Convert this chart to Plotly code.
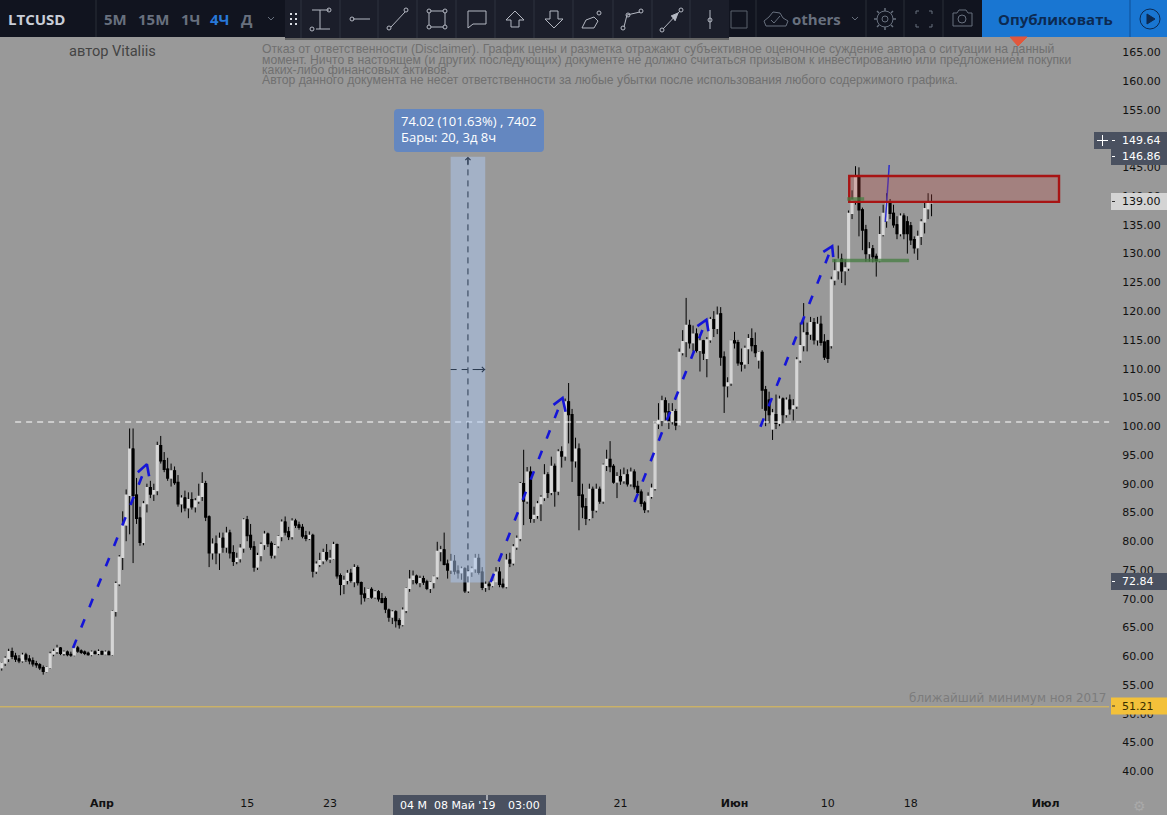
import plotly.graph_objects as go
import pandas as pd

# ---------- data ----------
first_bar = "2019-03-22 08:00"
opens = [
58.0,58.8,59.6,60.8,60.0,59.5,59.2,60.2,59.5,59.2,
58.7,58.5,58.0,57.4,58.0,60.4,60.8,61.4,60.5,60.7,
60.3,60.2,61.4,60.9,60.7,60.5,60.3,60.7,60.5,60.8,
60.4,60.7,60.3,67.8,72.6,77.2,82.8,88.0,96.0,88.0,
84.0,79.8,86.5,89.3,88.2,88.8,96.6,94.0,92.5,91.0,
92.2,90.2,86.5,87.5,85.8,87.2,86.0,87.0,87.8,90.0,
84.2,78.0,79.5,78.0,80.5,79.0,81.4,78.0,76.5,77.0,
78.8,83.7,81.0,79.0,75.5,77.5,79.4,81.2,79.6,77.6,
79.2,80.8,83.3,81.6,80.8,83.5,82.8,82.4,80.9,80.5,
81.0,74.8,76.0,76.6,78.0,76.9,77.0,79.4,74.0,72.5,
73.2,74.4,73.0,75.4,72.8,70.8,70.2,71.6,70.3,71.2,
70.0,70.0,68.0,66.8,67.7,66.2,65.5,68.0,71.8,73.4,
73.9,72.8,73.5,72.9,71.8,72.8,73.8,78.2,78.5,76.0,
75.0,76.5,74.8,74.5,75.2,71.4,74.7,75.2,77.0,74.6,
72.0,72.5,72.3,73.0,74.6,72.5,72.1,76.7,76.2,79.0,
80.5,90.0,87.0,92.0,84.0,84.5,86.5,87.6,91.5,88.5,
93.0,88.7,95.5,94.8,104.2,102.0,94.0,96.0,88.0,86.0,
84.0,89.0,85.4,89.0,87.0,93.2,94.2,93.0,90.3,91.2,
90.5,91.5,90.0,92.0,89.5,88.5,86.6,85.5,87.8,89.2,
100.4,101.0,104.4,102.5,100.8,102.5,100.2,112.8,114.7,117.5,
114.5,116.0,113.2,114.8,111.8,115.0,118.5,117.0,119.5,112.0,
107.0,107.5,114.8,114.5,111.0,110.8,113.5,115.2,114.0,111.5,
112.8,106.3,104.5,99.5,102.0,100.5,104.7,102.0,104.5,103.0,
103.5,111.5,114.0,116.2,116.0,118.0,115.0,117.7,114.6,114.8,
114.0,125.4,127.0,129.0,127.0,127.5,137.0,139.3,143.5,137.6,
134.1,130.0,130.8,129.5,128.8,133.3,135.7,139.0,137.0,135.0,
133.5,136.5,135.5,134.8,132.4,131.0,133.0,135.5,137.8,138.8,
]
highs = [
59.0,60.0,61.3,61.5,60.6,60.2,60.6,60.6,60.2,59.8,
59.2,58.8,58.4,58.2,60.8,61.3,62.0,61.6,61.0,61.0,
60.8,61.9,61.8,61.2,61.0,60.8,61.0,61.0,61.2,61.0,
61.0,61.0,68.0,73.0,77.6,85.2,89.0,99.6,99.6,91.0,
86.0,87.0,90.0,90.5,90.0,97.3,98.3,95.5,94.5,93.5,
93.0,91.5,88.0,88.8,88.5,88.5,87.5,90.0,92.0,90.5,
84.5,80.5,81.0,81.5,81.5,82.5,82.0,79.3,78.0,79.5,
84.0,84.4,83.0,80.0,78.0,79.8,81.8,81.5,80.0,79.5,
81.0,83.8,84.3,82.5,84.0,83.9,83.4,83.0,81.8,81.7,
81.3,76.5,78.0,78.7,79.5,78.5,79.9,79.6,74.4,74.0,
75.0,75.2,76.0,75.8,73.0,72.0,71.8,72.0,71.5,71.5,
71.0,70.4,68.3,68.0,68.0,66.6,68.5,72.0,75.0,74.9,
74.2,74.0,74.0,73.3,73.0,74.0,79.9,79.2,81.5,76.8,
77.8,77.6,75.8,75.6,75.5,75.0,75.6,77.8,77.8,75.5,
73.0,73.0,73.2,75.5,75.5,73.5,77.8,78.0,79.5,81.0,
90.3,95.9,92.9,93.0,86.0,87.0,88.0,93.4,92.0,94.7,
93.5,96.0,96.5,104.8,107.5,103.0,98.0,97.0,90.0,87.5,
90.0,89.5,90.0,89.5,93.5,95.9,97.4,93.4,92.0,92.5,
92.8,92.5,92.8,92.5,90.5,89.0,87.0,88.5,90.0,100.8,
104.0,105.3,105.0,104.0,104.0,103.0,113.5,116.7,122.3,118.5,
117.5,117.0,116.0,115.0,115.5,119.0,120.0,120.8,120.7,113.0,
108.5,115.0,116.4,115.0,113.5,114.0,116.0,117.0,116.3,113.0,
113.2,107.0,106.0,103.0,105.5,105.3,105.0,105.0,105.5,104.7,
112.0,118.0,121.4,118.0,119.0,118.8,119.0,119.2,116.0,115.0,
126.0,129.0,131.4,130.0,129.0,137.5,141.0,145.2,145.0,138.0,
135.0,132.0,131.5,130.0,136.5,138.5,140.5,139.5,138.5,136.5,
137.0,137.0,136.5,135.5,133.0,134.0,136.0,138.8,140.5,140.3,
]
lows = [
57.5,58.3,59.0,59.5,59.0,58.8,58.9,59.0,58.6,58.2,
58.0,57.6,56.8,57.2,57.8,60.0,60.4,60.2,60.1,60.0,
59.9,60.0,60.6,60.4,60.2,60.1,60.0,60.3,60.2,60.2,
60.2,60.2,60.1,66.9,72.2,75.0,80.0,81.2,76.2,83.0,
79.2,79.3,85.0,87.5,87.0,88.0,93.5,92.0,90.5,89.5,
89.8,86.0,85.0,85.2,84.0,85.5,85.0,86.5,87.0,83.5,
75.5,76.8,76.0,75.0,78.0,78.0,77.0,75.7,76.0,76.3,
78.0,80.0,78.5,74.7,75.0,76.5,78.5,79.0,77.0,77.0,
78.8,80.0,81.0,80.2,80.3,82.3,82.0,80.5,80.0,80.2,
73.7,74.3,75.5,76.0,76.5,76.2,76.8,73.5,70.6,70.8,
72.5,72.8,72.0,72.3,69.0,69.5,70.0,70.0,70.0,69.5,
69.2,67.5,66.0,65.6,65.0,64.8,65.2,67.5,71.2,72.5,
72.5,72.0,72.4,71.5,71.0,71.8,73.4,76.5,75.8,73.5,
74.3,74.2,73.5,73.3,71.0,71.0,73.8,74.5,74.2,71.5,
71.2,71.5,72.0,73.0,72.0,71.8,71.8,75.5,75.8,78.5,
80.0,82.8,86.5,83.2,83.2,83.9,83.5,87.0,87.5,88.0,
86.0,88.0,92.8,94.0,97.0,90.3,92.8,81.9,84.0,82.8,
83.6,84.0,85.0,86.5,86.5,92.2,92.0,90.0,87.5,89.8,
90.0,89.5,89.5,89.0,88.0,86.0,84.9,85.0,87.4,88.8,
99.5,100.0,101.0,99.5,100.3,99.3,100.0,112.3,112.0,113.5,
113.0,112.8,109.5,111.5,108.5,114.5,115.5,116.0,110.5,102.3,
105.0,107.0,113.5,110.5,109.5,110.0,110.8,113.0,112.0,110.0,
103.0,100.0,100.5,97.6,99.5,100.0,100.5,101.5,102.0,101.0,
103.0,111.0,113.0,113.0,115.0,114.2,114.0,114.0,111.5,111.0,
113.5,124.5,125.5,124.9,124.5,127.0,136.0,138.5,133.0,130.6,
128.6,128.6,128.5,126.0,128.5,133.0,134.5,136.0,134.5,132.5,
133.0,132.5,130.0,131.5,130.0,128.9,131.5,133.5,136.0,136.5,
]
closes = [
58.8,59.6,60.8,60.0,59.5,59.2,60.2,59.5,59.2,58.7,
58.5,58.0,57.4,58.0,60.4,60.8,61.4,60.5,60.7,60.3,
60.2,61.4,60.9,60.7,60.5,60.3,60.7,60.5,60.8,60.4,
60.7,60.3,67.8,72.6,77.2,82.8,88.0,96.0,88.0,84.0,
79.8,86.5,89.3,88.2,88.8,96.6,94.0,92.5,91.0,92.2,
90.2,86.5,87.5,85.8,87.2,86.0,87.0,87.8,90.0,84.2,
78.0,79.5,78.0,80.5,79.0,81.4,78.0,76.5,77.0,78.8,
83.7,81.0,79.0,75.5,77.5,79.4,81.2,79.6,77.6,79.2,
80.8,83.3,81.6,80.8,83.5,82.8,82.4,80.9,80.5,81.0,
74.8,76.0,76.6,78.0,76.9,77.0,79.4,74.0,72.5,73.2,
74.4,73.2,75.4,72.8,70.8,70.2,71.6,70.3,71.2,70.0,
69.4,68.2,66.8,67.7,66.2,65.5,68.0,71.8,73.4,73.9,
72.8,73.5,72.9,71.8,72.8,73.8,78.2,78.5,76.0,75.0,
76.5,74.8,74.5,75.2,71.4,74.7,75.2,77.0,74.6,72.0,
72.5,72.3,73.0,74.6,72.5,72.1,76.7,76.2,79.0,80.5,
90.0,87.0,92.0,84.0,84.5,86.5,87.6,91.5,88.5,93.0,
88.7,95.5,94.8,104.2,102.0,94.0,96.0,88.0,86.0,84.0,
89.0,85.4,89.0,87.0,93.2,94.2,93.0,90.3,91.2,90.5,
91.5,90.0,92.0,89.5,88.5,86.6,85.5,87.8,89.2,100.4,
101.0,104.4,102.5,100.8,102.5,100.2,112.8,114.7,117.5,114.5,
116.0,113.2,114.8,112.7,115.0,118.5,117.0,119.3,112.0,107.0,
107.5,114.8,114.5,111.0,110.8,113.5,115.2,114.0,112.8,112.8,
106.3,102.8,102.0,102.3,100.5,104.7,102.0,104.5,103.0,103.5,
111.5,114.0,116.2,116.0,118.0,115.0,117.7,114.6,112.0,111.8,
125.4,127.0,129.0,127.0,127.5,137.0,139.3,143.5,137.6,134.1,
130.0,130.8,129.5,128.8,133.3,137.0,139.0,137.0,135.0,133.5,
136.5,133.5,133.5,132.4,131.0,133.0,135.5,137.8,138.8,139.0,
]

# dashed blue forecasts: start, tip, head-left, head-right
arrow_dates = [
    ["2019-03-29 05:00", "2019-04-05 08:00", "2019-04-04 11:00", "2019-04-05 13:00"],
    ["2019-05-08 11:30", "2019-05-15 10:00", "2019-05-14 13:00", "2019-05-15 17:00"],
    ["2019-05-22 08:30", "2019-05-29 07:00", "2019-05-28 10:00", "2019-05-29 11:30"],
    ["2019-06-03 12:00", "2019-06-10 10:00", "2019-06-09 13:30", "2019-06-10 12:30"],
]
arrow_prices = [
    [61.44, 93.4, 92.0, 91.3],
    [72.9, 104.9, 103.7, 102.5],
    [86.8, 118.5, 117.4, 116.5],
    [99.9, 131.3, 130.3, 129.4],
]
blue_line_dates = ["2019-06-15 13:00", "2019-06-15 22:00"]
blue_line_prices = [135.5, 145.4]
green_a_dates = ["2019-06-10 10:00", "2019-06-17 20:00"]
green_a_price = 128.8
green_b_dates = ["2019-06-11 21:00", "2019-06-13 12:00"]
green_b_price = 139.5
zone_dates = ["2019-06-12 01:30", "2019-07-02 07:00"]
zone_prices = [139.0, 143.5]
level_dashed = 100.73
level_dashed_dates = ["2019-03-23 15:00", "2019-07-07 03:00"]
level_low = 51.21
level_low_end = "2019-07-07 03:00"
measure_dates = ["2019-05-04 15:00", "2019-05-07 23:00"]
measure_mid_date = "2019-05-06 07:00"
measure_prices = [72.84, 146.86]

y_ticks = list(range(40, 170, 5))
x_ticks = ["2019-04-01", "2019-04-15", "2019-04-23", "2019-05-21", "2019-06-01", "2019-06-10", "2019-06-18", "2019-07-01"]
x_tick_labels = ["<b>Апр</b>", "15", "23", "21", "<b>Июн</b>", "10", "18", "<b>Июл</b>"]
x_range = ["2019-03-22 04:00", "2019-07-07 05:00"]
y_range = [35.88, 174.09]

# ---------- geometry of the page chrome (pixels) ----------
W, H = 1167, 815
PW, PH = 1110, 795
def X(p): return p / PW
def Y(p): return 1 - p / PH

shapes, notes = [], []
def rect(x0, y0, x1, y1, fill=None, line=None, w=1):
    shapes.append(dict(type="rect", xref="paper", yref="paper", x0=X(x0), x1=X(x1), y0=Y(y0), y1=Y(y1),
                       fillcolor=fill or "rgba(0,0,0,0)", line=dict(color=line or "rgba(0,0,0,0)", width=w if line else 0), layer="above"))
def seg(x0, y0, x1, y1, color="#b4b8c2", w=1):
    shapes.append(dict(type="line", xref="paper", yref="paper", x0=X(x0), x1=X(x1), y0=Y(y0), y1=Y(y1),
                       line=dict(color=color, width=w), layer="above"))
def circ(cx, cy, r, line="#b4b8c2", fill=None, w=1):
    shapes.append(dict(type="circle", xref="paper", yref="paper", x0=X(cx - r), x1=X(cx + r), y0=Y(cy - r), y1=Y(cy + r),
                       fillcolor=fill or "rgba(0,0,0,0)", line=dict(color=line, width=w), layer="above"))
def poly(points, color="#b4b8c2", fill=None, w=1, close=False):
    d = "M " + " L ".join(f"{X(a):.5f},{Y(b):.5f}" for a, b in points) + (" Z" if close else "")
    shapes.append(dict(type="path", xref="paper", yref="paper", path=d,
                       fillcolor=fill or "rgba(0,0,0,0)", line=dict(color=color, width=w), layer="above"))
def text(x, y, s, size=11, color="#111111", anchor="left", font="DejaVu Sans"):
    notes.append(dict(xref="paper", yref="paper", x=X(x), y=Y(y), text=s, showarrow=False, xanchor=anchor, yanchor="middle",
                      font=dict(family=font, size=size, color=color), borderpad=0, borderwidth=0))

# top bar
BAR = "#11141f"
rect(0, 0, W, 37, BAR)
text(8, 19, "<b>LTCUSD</b>", 15, "#c9ced8", font="Open Sans")
seg(96, 0, 96, 37, "#2a2e39")
for tx, s, col in [(104, "5M", "#68707e"), (138, "15M", "#68707e"), (181, "1Ч", "#68707e"), (210, "4Ч", "#2878d8"), (241, "Д", "#68707e")]:
    text(tx, 19, f"<b>{s}</b>", 15, col, font="Open Sans")
poly([(268, 17), (271, 20), (274, 17)], "#68707e")

# floating drawing toolbar
rect(285, 38, 729, 40, "rgba(0,0,0,0.35)")
rect(285, 0, 729, 38, "#1b1e2a")
for gx in (291, 296):
    for gy in (14, 19, 24):
        rect(gx - 1, gy - 1, gx + 1, gy + 1, "#d8dbe2")
for sx in (301, 340, 378, 417, 456, 495, 534, 573, 613, 652, 690):
    seg(sx, 0, sx, 38, "#2e323e")
# icons
seg(312, 10, 329, 10); seg(320, 10, 320, 29); seg(316, 29, 330, 29); circ(329, 10, 2); circ(312, 29, 2)
seg(353, 19, 370, 19); circ(352, 19, 2)
seg(391, 27, 405, 12); circ(389, 28, 2); circ(406, 10, 2)
rect(429, 11, 445, 27, None, "#b4b8c2"); [circ(a, b, 2, fill="#1b1e2a") for a in (429, 445) for b in (11, 27)]
poly([(468, 11), (486, 11), (486, 24), (473, 24), (468, 28), (468, 11)])
poly([(515, 11), (524, 20), (519, 20), (519, 27), (511, 27), (511, 20), (506, 20), (515, 11)])
poly([(554, 28), (563, 19), (558, 19), (558, 11), (550, 11), (550, 19), (545, 19), (554, 28)])
poly([(582, 28), (586, 20), (594, 17), (598, 21), (594, 28), (582, 28)]); circ(599, 13, 2)
poly([(624, 27), (627, 15), (640, 12)]); circ(623, 28, 2); circ(628, 15, 2); circ(641, 11, 2)
seg(663, 29, 680, 11); poly([(671, 16), (678, 13), (675, 21)], fill="#b4b8c2"); circ(662, 30, 2); circ(681, 10, 2)
seg(710, 10, 710, 29); circ(710, 20, 2)

# right part of the bar
rect(731, 11, 747, 28, None, "#5a606c")
seg(756, 0, 756, 37, "#2a2e39")
poly([(766, 26), (764, 21), (769, 17), (773, 12), (780, 13), (783, 18), (788, 21), (786, 26), (766, 26)], "#68707e")
poly([(771, 20), (774, 23), (780, 16)], "#68707e")
text(792, 19, "<b>others</b>", 15, "#68707e", font="Open Sans")
poly([(852, 17), (855, 20), (858, 17)], "#68707e")
seg(866, 0, 866, 37, "#2a2e39"); seg(904, 0, 904, 37, "#2a2e39"); seg(943, 0, 943, 37, "#2a2e39")
circ(885, 19, 8, "#68707e"); circ(885, 19, 3, "#68707e")
for a, b, c, d in [(885, 8, 885, 11), (885, 27, 885, 30), (874, 19, 877, 19), (893, 19, 896, 19),
                   (877, 11, 879, 13), (893, 11, 891, 13), (877, 27, 879, 25), (893, 27, 891, 25)]:
    seg(a, b, c, d, "#68707e", 1.5)
for pts in [[(916, 14), (916, 11), (919, 11)], [(929, 11), (932, 11), (932, 14)], [(916, 24), (916, 27), (919, 27)], [(929, 27), (932, 27), (932, 24)]]:
    poly(pts, "#68707e")
poly([(953, 13), (957, 13), (959, 10), (966, 10), (968, 13), (972, 13), (972, 26), (953, 26), (953, 13)], "#68707e")
circ(962, 19, 4, "#68707e")
rect(982, 0, 1167, 37, "#1976d2")
seg(1130, 0, 1130, 37, "#0e4f96")
text(1055, 19, "<b>Опубликовать</b>", 15, "#0c2a52", "center", font="Open Sans")
circ(1150, 19, 10, "#0c2a52")
poly([(1147, 14), (1155, 19), (1147, 24)], "#0c2a52", "#0c2a52", close=True)
poly([(1010, 37), (1027, 37), (1018, 46)], "#e2573c", "#e2573c", close=True)

# page texts
text(69, 51, "автор Vitaliis", 14.6, "#444444", font="Roboto")
DISC = "#707070"
DF = "Liberation Sans"
text(262, 49, "Отказ от ответственности (Disclaimer). График цены и разметка отражают субъективное оценочное суждение автора о ситуации на данный", 12.2, DISC, font=DF)
text(262, 60, "момент. Ничто в настоящем (и других последующих) документе не должно считаться призывом к инвестированию или предложением покупки", 12.2, DISC, font=DF)
text(262, 70, "каких-либо финансовых активов.", 12.2, DISC, font=DF)
text(262, 80, "Автор данного документа не несет ответственности за любые убытки после использования любого содержимого графика.", 12.2, DISC, font=DF)
text(1107, 698, "ближайший минимум ноя 2017", 12, "#7c7c7c", "right")

# measure label
bx0, by0, bx1, by1, r = 394, 109, 544, 152, 4
shapes.append(dict(type="path", xref="paper", yref="paper", fillcolor="#6487c0", line=dict(width=0), layer="above",
    path=f"M {X(bx0+r)},{Y(by0)} L {X(bx1-r)},{Y(by0)} Q {X(bx1)},{Y(by0)} {X(bx1)},{Y(by0+r)} L {X(bx1)},{Y(by1-r)} Q {X(bx1)},{Y(by1)} {X(bx1-r)},{Y(by1)} L {X(bx0+r)},{Y(by1)} Q {X(bx0)},{Y(by1)} {X(bx0)},{Y(by1-r)} L {X(bx0)},{Y(by0+r)} Q {X(bx0)},{Y(by0)} {X(bx0+r)},{Y(by0)} Z"))
text(401, 121, "74.02 (101.63%) , 7402", 13, "#ffffff", font="Open Sans")
text(401, 137, "Бары: 20, 3д 8ч", 13, "#ffffff", font="Open Sans")

# price scale tags
DARK = "#4a5160"
rect(1094, 132, 1111, 149, DARK); seg(1097, 140.5, 1108, 140.5, "#ffffff"); seg(1102.5, 135, 1102.5, 146, "#ffffff")
for cy, label, fill, col in [(140.5, "149.64", DARK, "#ffffff"), (156.5, "146.86", DARK, "#ffffff"),
                             (201.5, "139.00", "#d4d4d4", "#111111"), (581.5, "72.84", DARK, "#ffffff"),
                             (706, "51.21", "#f3c13a", "#3a3000")]:
    rect(1111, cy - 8.5, W, cy + 8.5, fill)
    seg(1112, cy, 1115, cy, col if fill == DARK else "#333333")
    text(1122, cy, label, 11, col, "left")

# crosshair date tag
rect(393, 795, 546, 815, DARK)
seg(487, 795, 487, 800, "#ffffff")
text(400, 805, "04 М", 11, "#ffffff")
text(434, 805, "08 Май '19", 11, "#ffffff")
text(508, 805, "03:00", 11, "#ffffff")
text(1139, 806, "⚙", 14, "#a9a9a9", "center")

# ---------- traces ----------
dates = pd.date_range(first_bar, periods=len(opens), freq="8h")

fig = go.Figure()
# wicks: black, drawn under the bodies
fig.add_trace(go.Candlestick(
    x=dates, open=opens, close=opens, high=highs, low=lows, whiskerwidth=0,
    increasing=dict(fillcolor="#000000", line=dict(color="#000000", width=1)),
    decreasing=dict(fillcolor="#000000", line=dict(color="#000000", width=1)),
    hoverinfo="skip", showlegend=False))
# bodies
fig.add_trace(go.Candlestick(
    x=dates, open=opens, close=closes,
    high=[max(a, b) for a, b in zip(opens, closes)],
    low=[min(a, b) for a, b in zip(opens, closes)],
    whiskerwidth=0,
    increasing=dict(fillcolor="#d6d6d6", line=dict(color="#d6d6d6", width=1.4)),
    decreasing=dict(fillcolor="#000000", line=dict(color="#000000", width=1.4)),
    hoverinfo="skip", showlegend=False))

# levels
fig.add_trace(go.Scatter(x=level_dashed_dates, y=[level_dashed] * 2, mode="lines", showlegend=False, hoverinfo="skip",
                         line=dict(color="#ffffff", width=1.2, dash="6px,5px")))
fig.add_trace(go.Scatter(x=[x_range[0], level_low_end], y=[level_low] * 2, mode="lines", showlegend=False, hoverinfo="skip",
                         line=dict(color="#e0bd50", width=1)))
# forecast arrows
for ds, ps in zip(arrow_dates, arrow_prices):
    fig.add_trace(go.Scatter(x=ds[:2], y=ps[:2], mode="lines", showlegend=False, hoverinfo="skip",
                             line=dict(color="#1515d8", width=2.6, dash="9px,13px")))
    fig.add_trace(go.Scatter(x=[ds[2], ds[1], ds[3]], y=[ps[2], ps[1], ps[3]], mode="lines", showlegend=False, hoverinfo="skip",
                             line=dict(color="#1515d8", width=2.6)))
fig.add_trace(go.Scatter(x=blue_line_dates, y=blue_line_prices, mode="lines", showlegend=False, hoverinfo="skip",
                         line=dict(color="#2c2ccc", width=1.5)))

# measure tool, zone, green levels (all drawn over the candles)
mid_price = sum(measure_prices) / 2
measure_line = dict(color="#2b3a50", width=1, dash="6px,5px")
green_line = dict(color="rgba(70,125,65,0.75)", width=3.5)
data_shapes = [
    dict(type="rect", xref="x", yref="y", x0=measure_dates[0], x1=measure_dates[1], y0=measure_prices[0], y1=measure_prices[1],
         fillcolor="rgba(173,201,243,0.5)", line=dict(width=0), layer="above"),
    dict(type="rect", xref="x", yref="y", x0=zone_dates[0], x1=zone_dates[1], y0=zone_prices[0], y1=zone_prices[1],
         fillcolor="rgba(190,70,60,0.28)", line=dict(color="#a81414", width=2.4), layer="above"),
    dict(type="line", xref="x", yref="y", x0=green_a_dates[0], x1=green_a_dates[1], y0=green_a_price, y1=green_a_price, line=green_line, layer="above"),
    dict(type="line", xref="x", yref="y", x0=green_b_dates[0], x1=green_b_dates[1], y0=green_b_price, y1=green_b_price, line=green_line, layer="above"),
    dict(type="line", xref="x", yref="y", x0=measure_mid_date, x1=measure_mid_date, y0=measure_prices[0], y1=measure_prices[1], line=measure_line, layer="above"),
    dict(type="line", xref="x", yref="y", x0=measure_dates[0], x1=measure_dates[1], y0=mid_price, y1=mid_price, line=measure_line, layer="above"),
]
fig.add_annotation(x=measure_mid_date, y=measure_prices[1], ax=0, ay=10, xref="x", yref="y", text="", showarrow=True,
                   arrowhead=4, arrowsize=1, arrowwidth=1, arrowcolor="#2b3a50")
fig.add_annotation(x=measure_dates[1], y=mid_price, ax=-10, ay=0, xref="x", yref="y", text="", showarrow=True,
                   arrowhead=4, arrowsize=1, arrowwidth=1, arrowcolor="#2b3a50")

for n in notes:
    fig.add_annotation(**n)

fig.update_layout(
    width=W, height=H,
    margin=dict(l=0, r=W - PW, t=0, b=H - PH, pad=0),
    paper_bgcolor="#999999", plot_bgcolor="#999999",
    showlegend=False, hovermode=False, dragmode=False,
    shapes=data_shapes + shapes,
    xaxis=dict(type="date", range=x_range, showgrid=False, zeroline=False, showline=False,
               rangeslider=dict(visible=False), tickmode="array", tickvals=x_ticks, ticktext=x_tick_labels,
               ticks="", tickangle=0, tickfont=dict(family="DejaVu Sans", size=11, color="#111111")),
    yaxis=dict(range=y_range, side="right", showgrid=False, zeroline=False, showline=False,
               tickmode="array", tickvals=y_ticks, ticktext=[f"{v:.2f}" for v in y_ticks],
               ticks="outside", ticklen=9, tickcolor="rgba(0,0,0,0)",
               tickfont=dict(family="DejaVu Sans", size=11, color="#111111")),
)

fig.write_html("out.html", config=dict(displayModeBar=False, staticPlot=True),
               post_script="document.body.style.margin='0';document.body.style.overflow='hidden';document.documentElement.style.overflow='hidden';")
